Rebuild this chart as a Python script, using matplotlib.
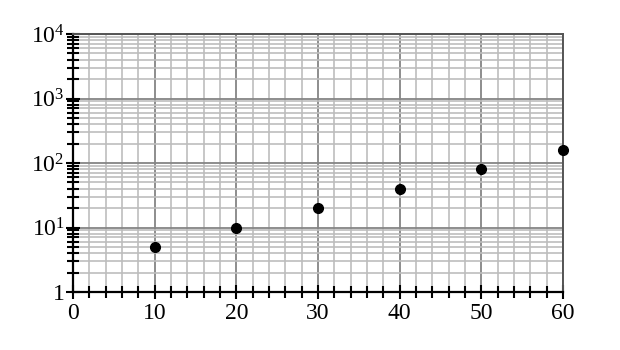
import matplotlib
matplotlib.use("Agg")
import matplotlib.pyplot as plt
import numpy as np
from matplotlib.ticker import FixedLocator, FuncFormatter, LogLocator, NullFormatter

x_vals = [10, 20, 30, 40, 50, 60]
y_vals = [5, 10, 20, 40, 80, 160]
x_ticks = [0, 10, 20, 30, 40, 50, 60]
y_ticks = [1, 10, 100, 1000, 10000]

plt.rcParams['font.family'] = ['Liberation Serif', 'DejaVu Serif']
plt.rcParams['mathtext.fontset'] = 'custom'
plt.rcParams['mathtext.rm'] = 'Liberation Serif'

fig = plt.figure(figsize=(6.2, 3.5), dpi=100)
ax = fig.add_axes([73/620, 1-292/350, (563-73)/620, (292-34)/350])
ax.set_yscale('log')
ax.set_xlim(0, 60)
ax.set_ylim(1, 1e4)

ax.set_xticks(x_ticks)
ax.xaxis.set_minor_locator(FixedLocator(np.arange(0, 61, 2)))
ax.set_yticks(y_ticks)
ax.yaxis.set_minor_locator(LogLocator(base=10, subs=np.arange(2, 10), numticks=20))
ax.yaxis.set_minor_formatter(NullFormatter())

def yfmt(v, pos):
    if v == 1:
        return "1"
    e = int(round(np.log10(v)))
    return r"$\mathregular{10^{%d}}$" % e
ax.yaxis.set_major_formatter(FuncFormatter(yfmt))

ax.grid(True, which='major', color='#858585', linewidth=1.3)
ax.grid(True, which='minor', color='#bdbdbd', linewidth=1.2)
ax.set_axisbelow(True)

ax.tick_params(axis='both', which='major', direction='inout', length=10, width=1.5, color='black', labelsize=17, pad=1)
ax.tick_params(axis='both', which='minor', direction='inout', length=8, width=1.5, color='black')
ax.tick_params(axis='x', which='both', pad=3)

for side in ['left', 'bottom']:
    ax.spines[side].set_color('black')
    ax.spines[side].set_linewidth(1.6)
for side in ['top', 'right']:
    ax.spines[side].set_color('#555555')
    ax.spines[side].set_linewidth(1.4)

ax.plot(x_vals, y_vals, 'o', color='black', markersize=7, clip_on=False, zorder=5)

fig.savefig("out.png", dpi=100, facecolor='white')
